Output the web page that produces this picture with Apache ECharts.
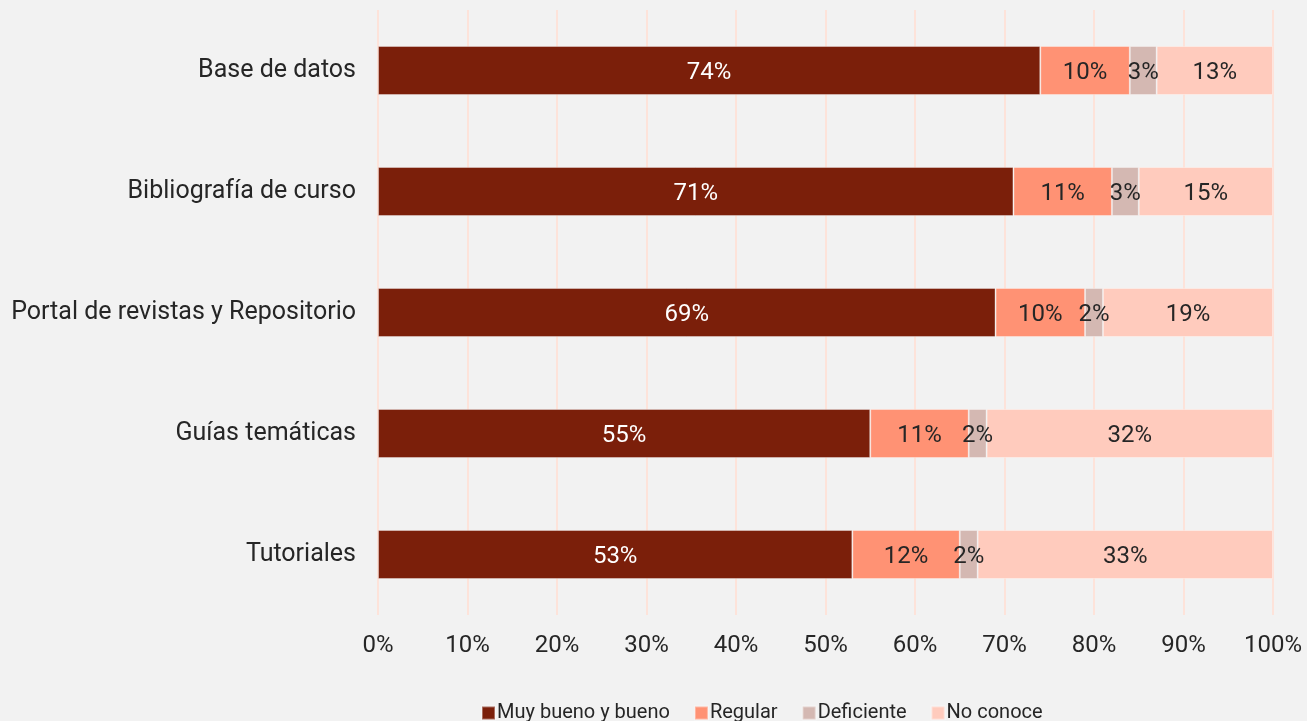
<!DOCTYPE html>
<html>
<head>
<meta charset="utf-8">
<script src="https://cdn.jsdelivr.net/npm/echarts@6/dist/echarts.min.js"></script>
<style>
html,body{margin:0;padding:0;background:#f2f2f2;}
#chart{width:1307px;height:721px;}
</style>
</head>
<body>
<div id="chart"></div>
<script>
const categories = ["Base de datos", "Bibliografía de curso", "Portal de revistas y Repositorio", "Guías temáticas", "Tutoriales"];
const seriesNames = ["Muy bueno y bueno", "Regular", "Deficiente", "No conoce"];
const muyBueno = [74, 71, 69, 55, 53];
const regular = [10, 11, 10, 11, 12];
const deficiente = [3, 3, 2, 2, 2];
const noConoce = [13, 15, 19, 32, 33];
const colors = ["#7b1f0a", "#ff9274", "#d4b8b2", "#ffcbbd"];
const labelColors = ["#ffffff", "#262626", "#262626", "#262626"];
const FONT = "Roboto";

const values = [muyBueno, regular, deficiente, noConoce];
const chart = echarts.init(document.getElementById('chart'), null, {renderer: 'canvas'});
chart.setOption({
  backgroundColor: '#f2f2f2',
  animation: false,
  grid: {left: 378, right: 34, top: 10, bottom: 106, containLabel: false},
  xAxis: {
    type: 'value', min: 0, max: 100, interval: 10,
    axisLine: {show: false}, axisTick: {show: false},
    splitLine: {show: true, lineStyle: {color: '#fde3da', width: 2}},
    axisLabel: {formatter: '{value}%', color: '#262626', fontSize: 24, fontFamily: FONT, margin: 19}
  },
  yAxis: {
    type: 'category', inverse: true, data: categories,
    axisLine: {show: false}, axisTick: {show: false},
    axisLabel: {color: '#262626', fontSize: 25, fontFamily: FONT, margin: 22, padding: [10,0,0,0]}
  },
  legend: {
    bottom: -7, left: 476, itemWidth: 13, itemHeight: 13, itemGap: 24,
    icon: 'rect',
    textStyle: {color: '#262626', fontSize: 20, fontFamily: FONT, padding: [0,0,0,-3]},
    data: seriesNames
  },
  series: seriesNames.map((n, i) => ({
    name: n, type: 'bar', stack: 'total', barWidth: 49,
    data: values[i],
    itemStyle: {color: colors[i], borderColor: 'rgba(255,255,255,0.35)', borderWidth: 1},
    label: {show: true, position: 'inside', formatter: '{c}%', color: labelColors[i], fontSize: 24, fontFamily: FONT, offset: [0, 2]}
  }))
});
</script>
</body>
</html>
